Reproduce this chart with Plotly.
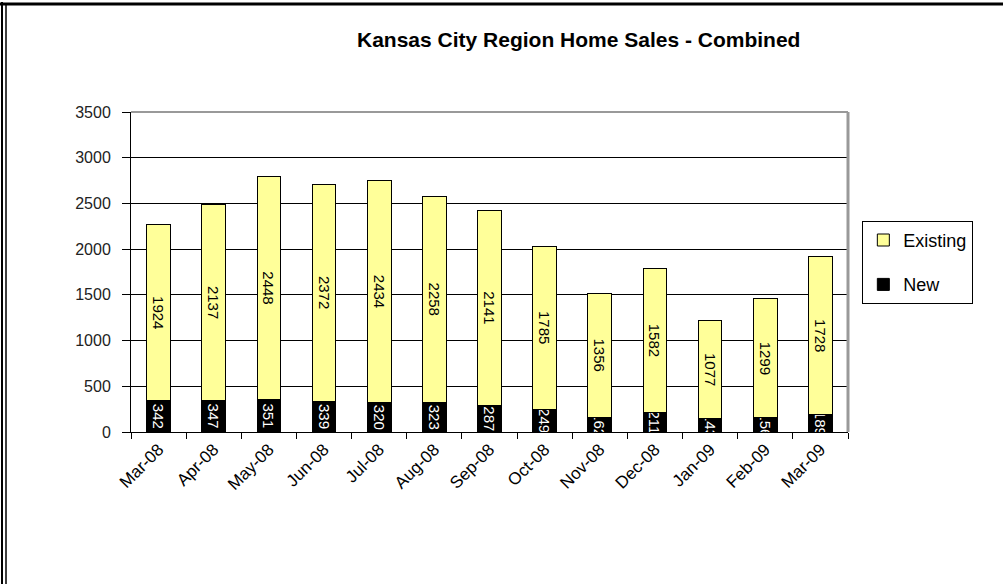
import plotly.graph_objects as go

months = ["Mar-08", "Apr-08", "May-08", "Jun-08", "Jul-08", "Aug-08", "Sep-08",
          "Oct-08", "Nov-08", "Dec-08", "Jan-09", "Feb-09", "Mar-09"]
new_sales = [342, 347, 351, 339, 320, 323, 287, 249, 162, 211, 143, 156, 189]
existing_sales = [1924, 2137, 2448, 2372, 2434, 2258, 2141, 1785, 1356, 1582, 1077, 1299, 1728]
y_ticks = [0, 500, 1000, 1500, 2000, 2500, 3000, 3500]

FONT = "Liberation Sans, Arial, sans-serif"

fig = go.Figure()
fig.add_trace(go.Bar(
    x=months, y=new_sales, name="New", legendgroup="n", legendrank=2,
    marker=dict(color="black", line=dict(color="black", width=1)),
    text=[str(v) for v in new_sales], textposition="inside",
    insidetextanchor="middle", textangle=90, constraintext="none",
    textfont=dict(color="white", size=15, family=FONT),
))
fig.add_trace(go.Bar(
    x=months, y=existing_sales, name="Existing", legendgroup="e", legendrank=1,
    marker=dict(color="#FFFF99", line=dict(color="black", width=1)),
    text=[str(v) for v in existing_sales], textposition="inside",
    insidetextanchor="middle", textangle=90, constraintext="none",
    textfont=dict(color="black", size=15, family=FONT),
))

fig.update_layout(
    width=1003, height=584,
    barmode="stack", bargap=0.57,
    plot_bgcolor="white", paper_bgcolor="white",
    margin=dict(l=131, r=155, t=112, b=152),
    font=dict(family=FONT, color="black"),
    title=dict(text="<b>Kansas City Region Home Sales - Combined</b>",
               x=0.577, xanchor="center", y=1 - 40 / 584, yanchor="middle",
               font=dict(size=21, family=FONT, color="black")),
    showlegend=True,
    legend=dict(x=1.02, xanchor="left", y=0.66, yanchor="top",
                traceorder="grouped", tracegroupgap=18,
                bordercolor="black", borderwidth=1,
                font=dict(size=18, family=FONT, color="black"),
                itemwidth=30, entrywidth=95),
    xaxis=dict(showline=True, linecolor="black", linewidth=1,
               ticks="outside", ticklen=6, tickcolor="black",
               tickson="boundaries", tickangle=-45,
               tickfont=dict(size=17, family=FONT, color="black")),
    yaxis=dict(range=[0, 3500], tickvals=y_ticks, showgrid=True,
               gridcolor="black", gridwidth=1,
               showline=True, linecolor="black", linewidth=1,
               ticks="outside", ticklen=8, tickcolor="black",
               ticklabelstandoff=8,
               tickfont=dict(size=16, family=FONT, color="#222222"),
               zeroline=False),
    shapes=[
        # plot area top/right border (grey)
        dict(type="line", xref="paper", yref="paper", x0=0, x1=1, y0=1, y1=1,
             line=dict(color="#999999", width=2)),
        dict(type="line", xref="paper", yref="paper", x0=1, x1=1, y0=0, y1=1,
             line=dict(color="#999999", width=3)),
        # outer frame: thick top, double left
        dict(type="line", xref="paper", yref="paper", xsizemode="pixel", ysizemode="pixel",
             xanchor=0, yanchor=1, x0=-131, x1=880, y0=108, y1=108,
             line=dict(color="black", width=3)),
        dict(type="line", xref="paper", yref="paper", xsizemode="pixel", ysizemode="pixel",
             xanchor=0, yanchor=1, x0=-129, x1=-129, y0=110, y1=-480,
             line=dict(color="black", width=2)),
        dict(type="line", xref="paper", yref="paper", xsizemode="pixel", ysizemode="pixel",
             xanchor=0, yanchor=1, x0=-125, x1=-125, y0=108, y1=-480,
             line=dict(color="black", width=1.5)),
    ],
)

fig.write_html("out.html", config={"displayModeBar": False},
               post_script="document.body.style.margin='0';document.body.style.overflow='hidden';")
